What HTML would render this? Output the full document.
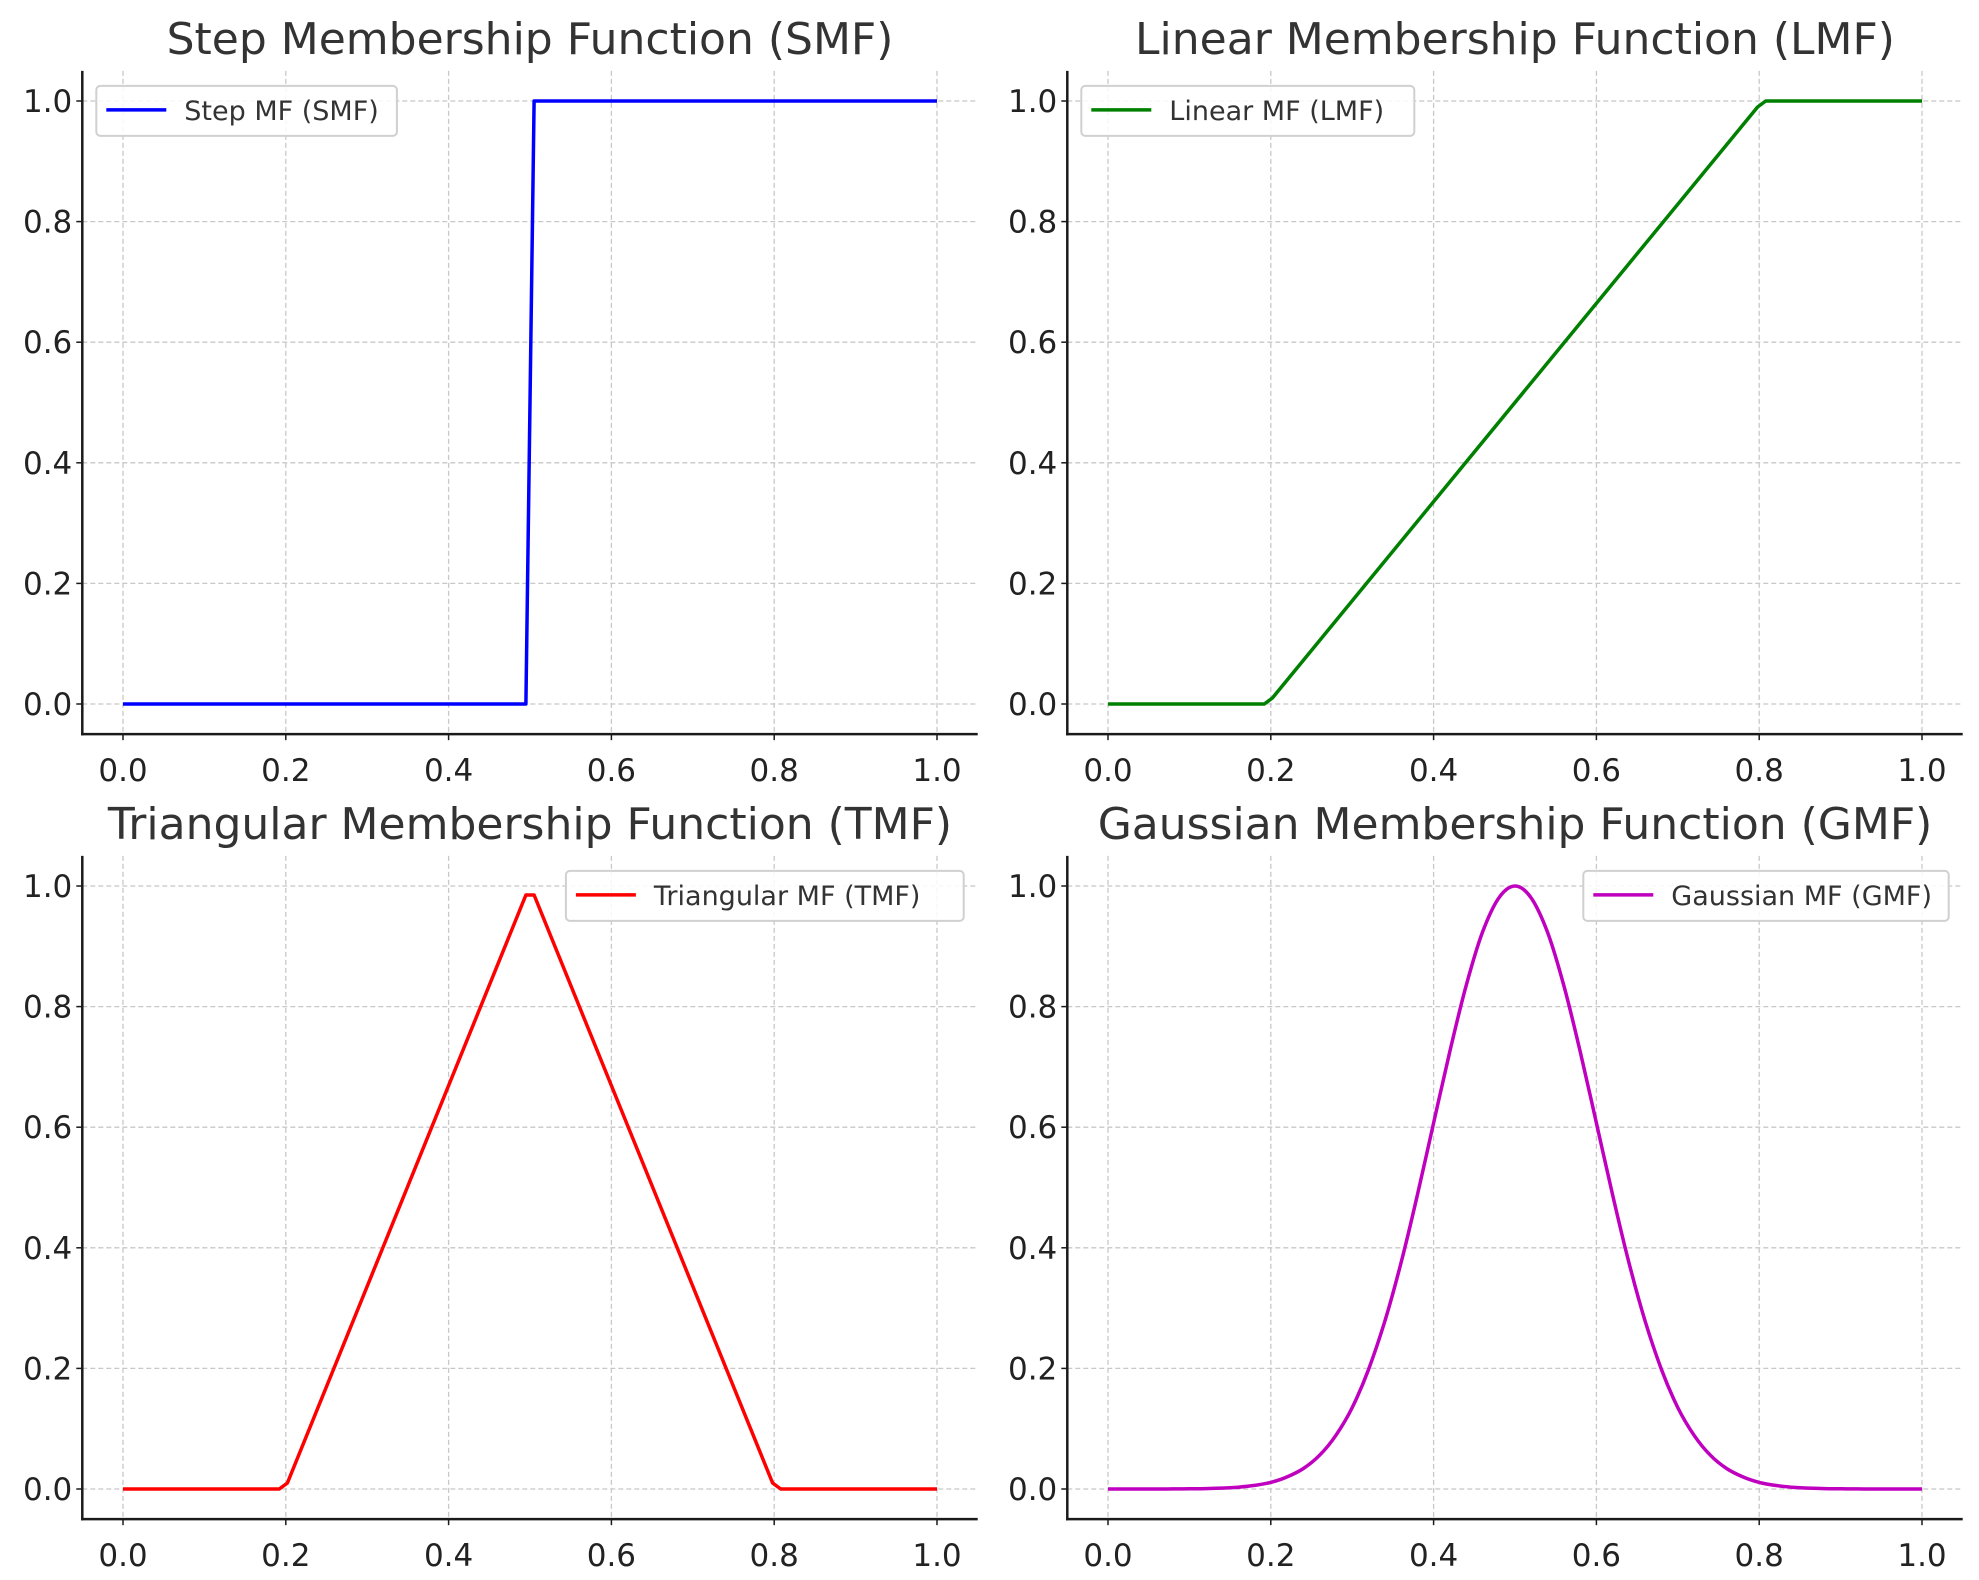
<!DOCTYPE html>
<html><head><meta charset="utf-8"><style>
html,body{margin:0;padding:0;background:#fff;}
svg{display:block;font-family:"DejaVu Sans","Liberation Sans",sans-serif;}
</style></head><body>
<svg id="fig" width="1979" height="1580" viewBox="0 0 1979 1580"></svg>
<script>
const xTicks = [0, 0.2, 0.4, 0.6, 0.8, 1.0];
const yTicks = [0, 0.2, 0.4, 0.6, 0.8, 1.0];
const tickLabels = ["0.0", "0.2", "0.4", "0.6", "0.8", "1.0"];
const titles = ["Step Membership Function (SMF)", "Linear Membership Function (LMF)", "Triangular Membership Function (TMF)", "Gaussian Membership Function (GMF)"];
const legendLabels = ["Step MF (SMF)", "Linear MF (LMF)", "Triangular MF (TMF)", "Gaussian MF (GMF)"];
const stepX = [0, 0.495, 0.505, 1];
const stepY = [0, 0, 1, 1];
const linX = [0, 0.192, 0.202, 0.798, 0.808, 1];
const linY = [0, 0, 0.01, 0.99, 1, 1];
const triX = [0, 0.192, 0.202, 0.495, 0.505, 0.798, 0.808, 1];
const triY = [0, 0, 0.01, 0.985, 0.985, 0.01, 0, 0];
const gaussX = [0,0.02,0.04,0.06,0.08,0.1,0.12,0.14,0.16,0.18,0.2,0.22,0.24,0.26,0.28,0.3,0.32,0.34,0.36,0.38,0.4,0.42,0.44,0.46,0.48,0.5,0.52,0.54,0.56,0.58,0.6,0.62,0.64,0.66,0.68,0.7,0.72,0.74,0.76,0.78,0.8,0.82,0.84,0.86,0.88,0.9,0.92,0.94,0.96,0.98,1];
const gaussY = [0,0,0,0,0.0001,0.0003,0.0007,0.0015,0.003,0.006,0.011,0.020,0.034,0.056,0.089,0.135,0.198,0.278,0.375,0.487,0.607,0.726,0.835,0.923,0.980,1,0.980,0.923,0.835,0.726,0.607,0.487,0.375,0.278,0.198,0.135,0.089,0.056,0.034,0.020,0.011,0.006,0.003,0.0015,0.0007,0.0003,0.0001,0,0,0,0];

const NS = "http://www.w3.org/2000/svg";
const fig = document.getElementById('fig');
function mk(tag, attrs, parent) {
  const e = document.createElementNS(NS, tag);
  for (const k in attrs) e.setAttribute(k, attrs[k]);
  (parent || fig).appendChild(e);
  return e;
}
function smoothPath(P) {
  let d = 'M' + P[0][0].toFixed(1) + ',' + P[0][1].toFixed(1);
  for (let i = 0; i < P.length - 1; i++) {
    const p0 = P[Math.max(i - 1, 0)], p1 = P[i], p2 = P[i + 1], p3 = P[Math.min(i + 2, P.length - 1)];
    const c1x = p1[0] + (p2[0] - p0[0]) / 6, c1y = p1[1] + (p2[1] - p0[1]) / 6;
    const c2x = p2[0] - (p3[0] - p1[0]) / 6, c2y = p2[1] - (p3[1] - p1[1]) / 6;
    d += ' C' + c1x.toFixed(1) + ',' + c1y.toFixed(1) + ' ' + c2x.toFixed(1) + ',' + c2y.toFixed(1) + ' ' + p2[0].toFixed(1) + ',' + p2[1].toFixed(1);
  }
  return d;
}
const panels = [
  {ox: 0, oy: 0, xs: stepX, ys: stepY, color: "#0000ff", legend: "left", name: "step", smooth: false},
  {ox: 985, oy: 0, xs: linX, ys: linY, color: "#008000", legend: "left", name: "linear", smooth: false},
  {ox: 0, oy: 785, xs: triX, ys: triY, color: "#ff0000", legend: "right", name: "triangular", smooth: false},
  {ox: 985, oy: 785, xs: gaussX, ys: gaussY, color: "#bf00bf", legend: "right", name: "gaussian", smooth: true}
];
panels.forEach((p, i) => {
  const g = mk('g', {});
  
  
  const X0 = 123 + p.ox, X1 = 937 + p.ox, Y0 = 704 + p.oy, Y1 = 101 + p.oy;
  const sx = v => X0 + (X1 - X0) * v;
  const sy = v => Y0 + (Y1 - Y0) * v;
  const left = sx(-0.05), right = sx(1.05), bottom = sy(-0.05), top = sy(1.05);
  xTicks.forEach(t => {
    const l = mk('line', {x1: sx(t), x2: sx(t), y1: top, y2: bottom, stroke: "#c8c8c8", "stroke-width": 1.3, "stroke-dasharray": "5,3"}, g);
    
    
  });
  yTicks.forEach(t => {
    const l = mk('line', {x1: left, x2: right, y1: sy(t), y2: sy(t), stroke: "#c8c8c8", "stroke-width": 1.3, "stroke-dasharray": "5,3"}, g);
    
    
  });
  const P = p.xs.map((x, k) => [sx(x), sy(p.ys[k])]);
  let line;
  if (p.smooth) {
    line = mk('path', {d: smoothPath(P), fill: "none", stroke: p.color, "stroke-width": 3.5, "stroke-linejoin": "round"}, g);
  } else {
    line = mk('polyline', {points: P.map(q => q[0].toFixed(1) + ',' + q[1].toFixed(1)).join(' '), fill: "none", stroke: p.color, "stroke-width": 3.5, "stroke-linejoin": "round"}, g);
  }
  
  
  const sl = mk('line', {x1: left, x2: left, y1: top, y2: bottom + 1.2, stroke: "#1a1a1a", "stroke-width": 2.5}, g);
  
  
  const sb = mk('line', {x1: left - 1.2, x2: right, y1: bottom, y2: bottom, stroke: "#1a1a1a", "stroke-width": 2.5}, g);
  
  
  xTicks.forEach((t, k) => {
    mk('line', {x1: sx(t), x2: sx(t), y1: bottom, y2: bottom + 6, stroke: "#1a1a1a", "stroke-width": 1.5}, g);
    const tx = mk('text', {x: sx(t), y: bottom + 47, "text-anchor": "middle", "font-size": 31, fill: "#222"}, g);
    tx.textContent = tickLabels[k];
    
    
  });
  yTicks.forEach((t, k) => {
    mk('line', {x1: left - 6, x2: left, y1: sy(t), y2: sy(t), stroke: "#1a1a1a", "stroke-width": 1.5}, g);
    const ty = mk('text', {x: left - 10, y: sy(t) + 11, "text-anchor": "end", "font-size": 31, fill: "#222"}, g);
    ty.textContent = tickLabels[k];
    
    
  });
  const tt = mk('text', {x: (left + right) / 2, y: 54 + p.oy, "text-anchor": "middle", "font-size": 44, fill: "#333"}, g);
  tt.textContent = titles[i];
  
  
  const lw = legendLabels[i].length * 16.2 + 90;
  const lx = p.legend === "left" ? left + 14 : right - 14 - lw;
  const ly = top + 15;
  const lg = mk('g', {}, g);
  
  
  mk('rect', {x: lx, y: ly, width: lw, height: 50, rx: 4, fill: "#fff", "fill-opacity": 0.85, stroke: "#d0d0d0", "stroke-width": 2}, lg);
  const ls = mk('line', {x1: lx + 10, x2: lx + 70, y1: ly + 24, y2: ly + 24, stroke: p.color, "stroke-width": 3.5}, lg);
  
  
  const lt = mk('text', {x: lx + 88, y: ly + 34, "font-size": 27, fill: "#333"}, lg);
  lt.textContent = legendLabels[i];
  
  
});
</script>
</body></html>
